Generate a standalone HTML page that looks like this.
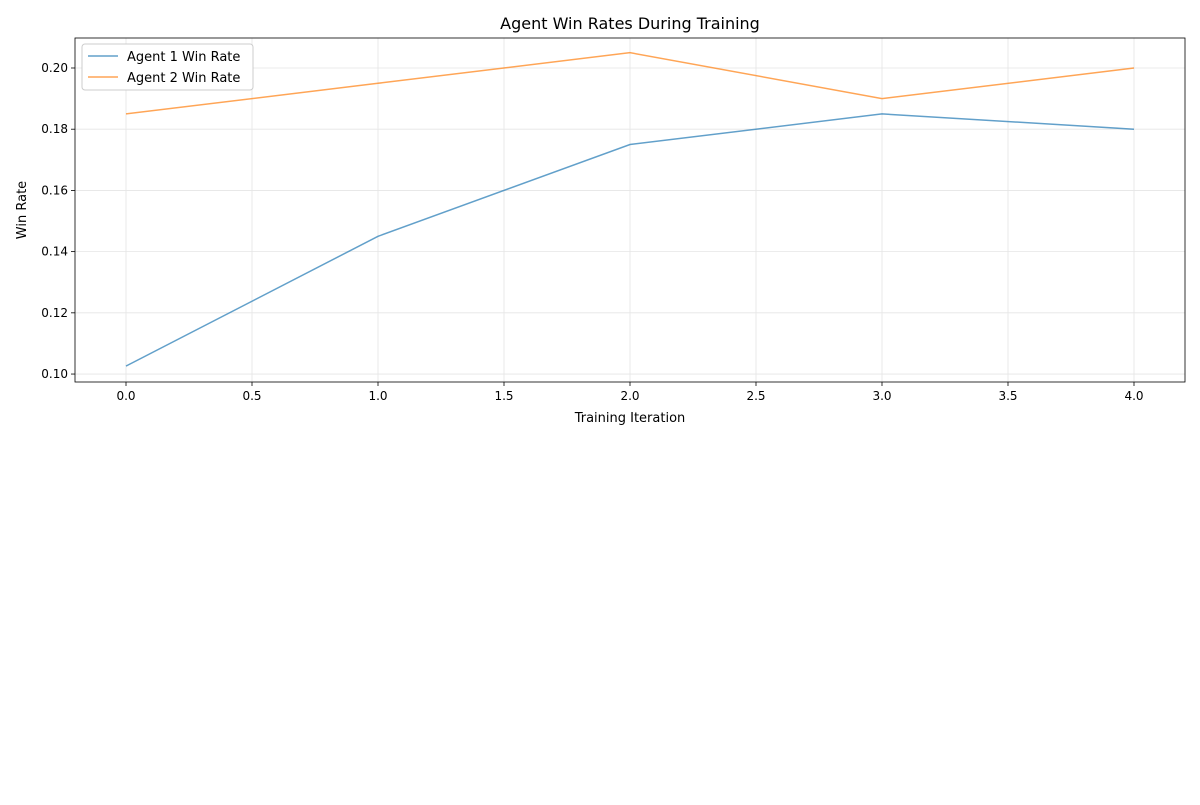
<!DOCTYPE html>
<html><head><meta charset="utf-8"><style>
body{margin:0;background:#fff;font-family:"Liberation Sans","DejaVu Sans",sans-serif;}
svg text{font-family:"DejaVu Sans","Liberation Sans",sans-serif;}
</style></head><body>
<svg id="chart" width="1200" height="800"></svg>
<script>
const iterations=[0,1,2,3,4];
const agent1=[0.1026,0.145,0.175,0.185,0.18];
const agent2=[0.185,0.195,0.205,0.19,0.20];
const xTicks=[0,0.5,1,1.5,2,2.5,3,3.5,4];
const yTicks=[0.10,0.12,0.14,0.16,0.18,0.20];
const L=75,R=1185,T=38,B=382;
const xMin=-0.2024,xMax=4.2024,yMin=0.0974,yMax=0.2098;
const sx=v=>L+(v-xMin)/(xMax-xMin)*(R-L);
const sy=v=>B-(v-yMin)/(yMax-yMin)*(B-T);
const svg=document.getElementById('chart');
const NS='http://www.w3.org/2000/svg';
function mk(tag,attrs,parent){const e=document.createElementNS(NS,tag);for(const k in attrs)e.setAttribute(k,attrs[k]);(parent||svg).appendChild(e);return e;}
xTicks.forEach(v=>{
 const g=mk('line',{x1:sx(v),x2:sx(v),y1:T,y2:B,stroke:'#e5e5e5','stroke-width':0.8});
 
 
 mk('line',{x1:sx(v),x2:sx(v),y1:B,y2:B+4,stroke:'#000','stroke-width':0.8});
 const t=mk('text',{x:sx(v),y:B+18,'text-anchor':'middle','font-size':12});t.textContent=v.toFixed(1);
 
 
});
yTicks.forEach(v=>{
 const g=mk('line',{x1:L,x2:R,y1:sy(v),y2:sy(v),stroke:'#e5e5e5','stroke-width':0.8});
 
 
 mk('line',{x1:L-4,x2:L,y1:sy(v),y2:sy(v),stroke:'#000','stroke-width':0.8});
 const t=mk('text',{x:L-7,y:sy(v)+4,'text-anchor':'end','font-size':12});t.textContent=v.toFixed(2);
 
 
});
function line(data,color,name){
 const p=mk('polyline',{points:data.map((v,i)=>sx(iterations[i])+','+sy(v)).join(' '),fill:'none',stroke:color,'stroke-width':1.5,'stroke-opacity':0.7});
 
 
}
line(agent1,'#1f77b4','agent-1-line');
line(agent2,'#ff7f0e','agent-2-line');
const fr=mk('rect',{x:L,y:T,width:R-L,height:B-T,fill:'none',stroke:'#000','stroke-width':0.8});


const title=mk('text',{x:630,y:29,'text-anchor':'middle','font-size':16});title.textContent='Agent Win Rates During Training';


const xl=mk('text',{x:630,y:422,'text-anchor':'middle','font-size':13});xl.textContent='Training Iteration';


const yl=mk('text',{x:0,y:0,'text-anchor':'middle','font-size':13,transform:'translate(26,210) rotate(-90)'});yl.textContent='Win Rate';


const lg=mk('rect',{x:82,y:44,width:171,height:46,fill:'#fff',stroke:'#ccc',rx:3});


[['Agent 1 Win Rate','#1f77b4',56],['Agent 2 Win Rate','#ff7f0e',77]].forEach(([n,c,y])=>{
 mk('line',{x1:88,x2:118,y1:y,y2:y,stroke:c,'stroke-width':1.5,'stroke-opacity':0.7});
 const t=mk('text',{x:127,y:y+5,'font-size':13});t.textContent=n;
 
 
});
</script>
</body></html>
